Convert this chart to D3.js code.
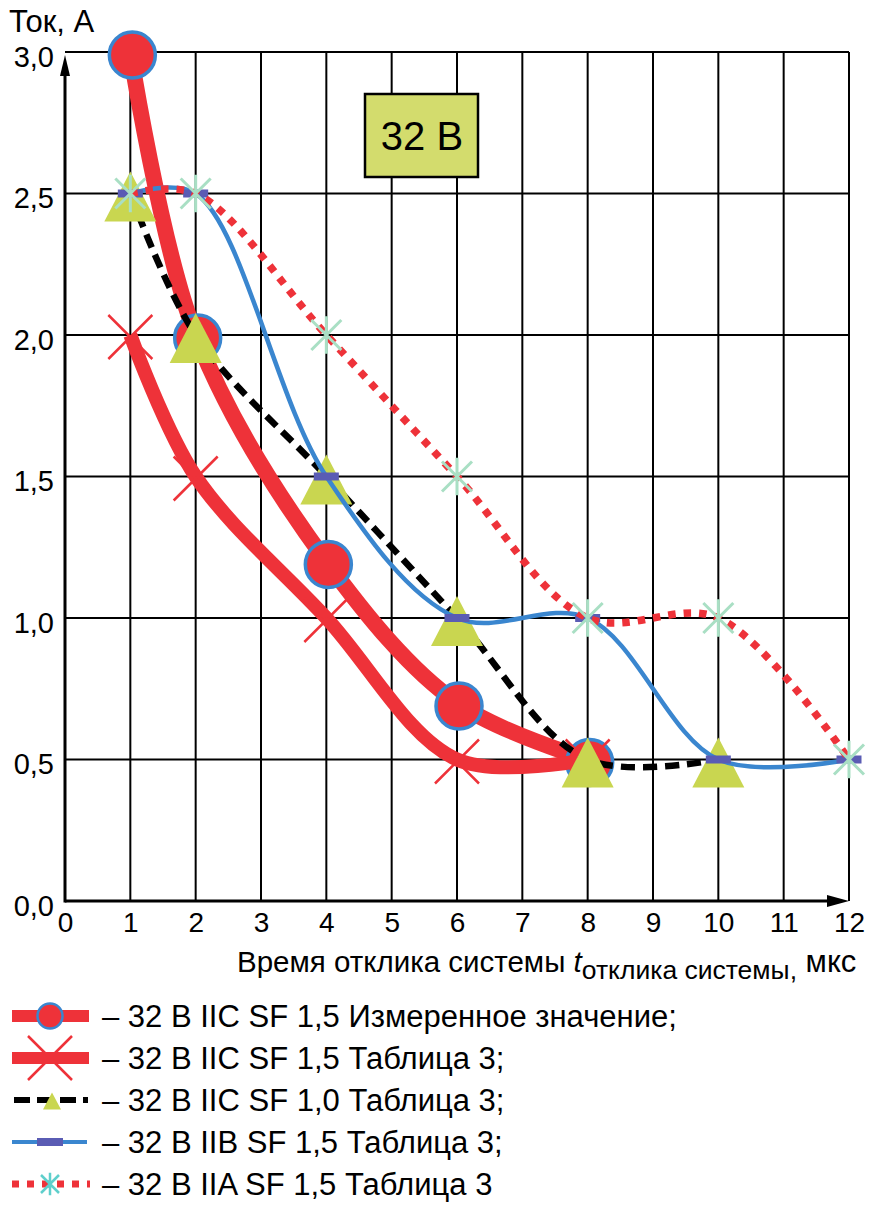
<!DOCTYPE html>
<html><head><meta charset="utf-8">
<script src="https://cdn.jsdelivr.net/npm/d3@7"></script>
<style>
html,body{margin:0;padding:0;background:#fff;}
svg{display:block;font-family:"Liberation Sans",Arial,sans-serif;}
</style></head>
<body><svg id="chart" width="871" height="1207"></svg>
<script>
// ---- data ----
const xTicks = [0,1,2,3,4,5,6,7,8,9,10,11,12];
const yTicks = [0,0.5,1.0,1.5,2.0,2.5,3.0];
const yTickLabels = ["0,0","0,5","1,0","1,5","2,0","2,5","3,0"];

const measuredX = [1,2,4,6,8];
const measuredY = [3.0,2.0,1.2,0.7,0.5];
const iicSf15X = [1,2,4,6,8];
const iicSf15Y = [2.0,1.5,1.0,0.5,0.5];
const iicSf10X = [1,2,4,6,8,10];
const iicSf10Y = [2.5,2.0,1.5,1.0,0.5,0.5];
const iibSf15X = [1,2,4,6,8,10,12];
const iibSf15Y = [2.5,2.5,1.5,1.0,1.0,0.5,0.5];
const iiaSf15X = [1,2,4,6,8,10,12];
const iiaSf15Y = [2.5,2.5,2.0,1.5,1.0,1.0,0.5];

const legendLabels = [
  "– 32 В IIC SF 1,5 Измеренное значение;",
  "– 32 В IIC SF 1,5 Таблица 3;",
  "– 32 В IIC SF 1,0 Таблица 3;",
  "– 32 В IIB SF 1,5 Таблица 3;",
  "– 32 В IIA SF 1,5 Таблица 3"
];
const boxLabel = "32 В";
const yTitle = "Ток, А";

// ---- styles ----
const RED = "#ee3239", BLUE = "#3a86cf", PURPLE = "#5a5cb4", YG = "#c9d650", MINT = "#a9dfc4", TURQ = "#5fcfcc";
const FONT = "Liberation Sans, Arial, sans-serif";

const svg = d3.select("#chart");
const x = d3.scaleLinear().domain([0,12]).range([65,849]);
const y = d3.scaleLinear().domain([0,3]).range([901,52]);

// grid
const grid = svg.append("g");
grid.selectAll("line.v").data(xTicks.slice(1)).join("line")
  .attr("x1",d=>x(d)).attr("x2",d=>x(d)).attr("y1",y(0)).attr("y2",y(3))
  .attr("stroke","#000").attr("stroke-width",2);
grid.selectAll("line.h").data(yTicks.slice(1)).join("line")
  .attr("x1",x(0)).attr("x2",x(12)).attr("y1",d=>y(d)).attr("y2",d=>y(d))
  .attr("stroke","#000").attr("stroke-width",2);

// axes lines with arrows
svg.append("line").attr("x1",x(0)).attr("x2",x(0)).attr("y1",y(0)+1.5).attr("y2",y(3)+20)
  .attr("stroke","#000").attr("stroke-width",3);
svg.append("path").attr("d",`M${x(0)},${y(3)+3} L${x(0)-5},${y(3)+24} L${x(0)+5},${y(3)+24} Z`).attr("fill","#000");
svg.append("line").attr("x1",x(0)).attr("x2",x(12)-20).attr("y1",y(0)).attr("y2",y(0))
  .attr("stroke","#000").attr("stroke-width",3);
svg.append("path").attr("d",`M${x(12)},${y(0)} L${x(12)-22},${y(0)-6} L${x(12)-22},${y(0)+6} Z`).attr("fill","#000");

// tick labels via axes
const yAxis = d3.axisLeft(y).tickValues(yTicks).tickSize(0).tickPadding(0)
  .tickFormat((d,i)=>yTickLabels[i]);
const gy = svg.append("g").attr("transform",`translate(54,5)`).call(yAxis);
gy.select(".domain").remove();
gy.selectAll("text").attr("font-size",29).attr("fill","#000").attr("font-family",FONT);

const xAxis = d3.axisBottom(x).tickValues(xTicks).tickSize(0).tickPadding(0).tickFormat(d3.format("d"));
const gx = svg.append("g").attr("transform",`translate(0,${y(0)+11})`).call(xAxis);
gx.select(".domain").remove();
gx.selectAll("text").attr("font-size",28).attr("fill","#000").attr("font-family",FONT);

// y title
svg.append("text").attr("x",9).attr("y",32).attr("font-size",31).text(yTitle);

// x title
const xt = svg.append("text").attr("x",237).attr("y",972).attr("font-size",29.5);
xt.append("tspan").text("Время отклика системы ");
xt.append("tspan").attr("font-style","italic").text("t");
xt.append("tspan").attr("font-size",26.5).attr("dy",7).text("отклика системы");
xt.append("tspan").attr("font-size",26.5).text(",");
xt.append("tspan").attr("dy",-7).attr("font-size",31).text(" мкс");

// box
svg.append("rect").attr("x",365).attr("y",94).attr("width",113).attr("height",83)
  .attr("fill","#d3dc6d").attr("stroke","#000").attr("stroke-width",2.5);
svg.append("text").attr("x",422).attr("y",150).attr("text-anchor","middle").attr("font-size",40).text(boxLabel);

const curve = d3.curveCatmullRom.alpha(0.5);
function pts(xs,ys){return xs.map((v,i)=>[v,ys[i]]);}
const line = d3.line().x(d=>x(d[0])).y(d=>y(d[1])).curve(curve);

// marker helpers
function circleM(g,cx,cy,r,sw){g.append("circle").attr("cx",cx).attr("cy",cy).attr("r",r).attr("fill",RED).attr("stroke",BLUE).attr("stroke-width",sw);}
function crossM(g,cx,cy,s,sw){
  g.append("path").attr("d",`M${cx-s},${cy-s}L${cx+s},${cy+s}M${cx-s},${cy+s}L${cx+s},${cy-s}`)
   .attr("stroke",RED).attr("stroke-width",sw).attr("fill","none");}
function triM(g,cx,cy,w,h){
  g.append("path").attr("d",`M${cx},${cy-h/2}L${cx+w/2},${cy+h/2}L${cx-w/2},${cy+h/2}Z`).attr("fill",YG);}
function rectM(g,cx,cy,w,h){g.append("rect").attr("x",cx-w/2).attr("y",cy-h/2).attr("width",w).attr("height",h).attr("fill",PURPLE);}
function starM(g,cx,cy,s,col,sw){
  g.append("path").attr("d",`M${cx-s},${cy-s}L${cx+s},${cy+s}M${cx-s},${cy+s}L${cx+s},${cy-s}M${cx},${cy-s*1.25}L${cx},${cy+s*1.25}`)
   .attr("stroke",col).attr("stroke-width",sw).attr("fill","none");}

const plot = svg.append("g");
// series 1: measured
const p1 = pts(measuredX,measuredY);
plot.append("path").attr("d",line(p1)).attr("fill","none").attr("stroke",RED).attr("stroke-width",16).attr("stroke-linejoin","round");
p1.forEach(d=>circleM(plot,x(d[0])+2,y(d[1])+3,23,3.5));
// series 2: IIC SF1.5 table
const p2 = pts(iicSf15X,iicSf15Y);
plot.append("path").attr("d",line(p2)).attr("fill","none").attr("stroke",RED).attr("stroke-width",14).attr("stroke-linejoin","round");
p2.forEach(d=>crossM(plot,x(d[0]),y(d[1])+2,22,2.5));
// series 3: IIC SF1.0 dashed black
const p3 = pts(iicSf10X,iicSf10Y);
plot.append("path").attr("d",line(p3)).attr("fill","none").attr("stroke","#000").attr("stroke-width",6.5).attr("stroke-dasharray","14,8");
p3.forEach(d=>triM(plot,x(d[0]),y(d[1])+3,52,50));
// series 4: IIB blue
const p4 = pts(iibSf15X,iibSf15Y);
plot.append("path").attr("d",line(p4)).attr("fill","none").attr("stroke",BLUE).attr("stroke-width",4.5);
p4.forEach(d=>rectM(plot,x(d[0]),y(d[1]),25,8));
// series 5: IIA dotted red
const p5 = pts(iiaSf15X,iiaSf15Y);
plot.append("path").attr("d",line(p5)).attr("fill","none").attr("stroke",RED).attr("stroke-width",7.5).attr("stroke-dasharray","7.5,8");
p5.forEach(d=>starM(plot,x(d[0]),y(d[1]),15,MINT,3));

// legend
const lg = svg.append("g");
const rowY = [1016,1058,1100,1142,1184];
// row 1
lg.append("line").attr("x1",12).attr("x2",89).attr("y1",rowY[0]).attr("y2",rowY[0]).attr("stroke",RED).attr("stroke-width",12);
circleM(lg,50,rowY[0],12.5,2.5);
// row 2
lg.append("line").attr("x1",12).attr("x2",89).attr("y1",rowY[1]).attr("y2",rowY[1]).attr("stroke",RED).attr("stroke-width",12);
crossM(lg,50,rowY[1],22,2.5);
// row 3
lg.append("line").attr("x1",14).attr("x2",88).attr("y1",rowY[2]).attr("y2",rowY[2]).attr("stroke","#000").attr("stroke-width",6).attr("stroke-dasharray","16,7");
triM(lg,52,rowY[2]+1,18,17);
// row 4
lg.append("line").attr("x1",12).attr("x2",87).attr("y1",rowY[3]).attr("y2",rowY[3]).attr("stroke",BLUE).attr("stroke-width",4);
rectM(lg,50,rowY[3],26,8);
// row 5
lg.append("line").attr("x1",12).attr("x2",90).attr("y1",rowY[4]).attr("y2",rowY[4]).attr("stroke",RED).attr("stroke-width",7).attr("stroke-dasharray","7,8");
starM(lg,50,rowY[4],9,TURQ,2.5);

lg.selectAll("text.l").data(legendLabels).join("text").attr("class","l")
  .attr("x",102).attr("y",(d,i)=>rowY[i]+11).attr("font-size",31).text(d=>d);
</script></body></html>
